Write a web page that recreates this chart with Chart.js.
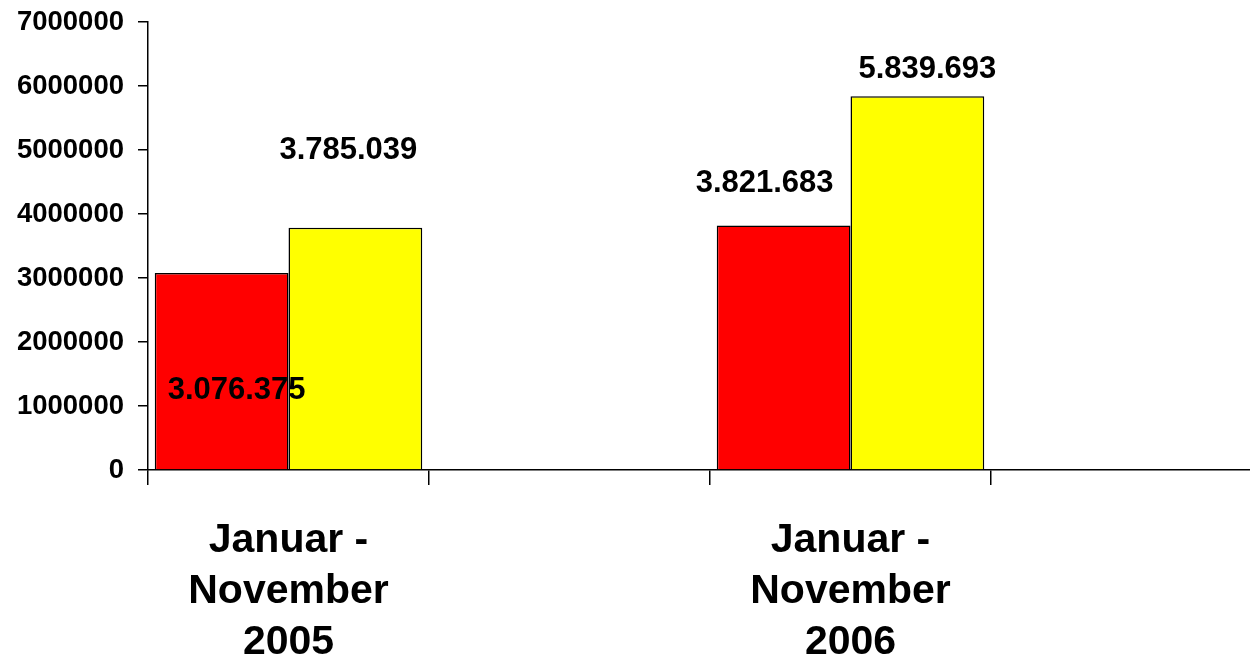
<!DOCTYPE html>
<html>
<head>
<meta charset="utf-8">
<script src="https://cdn.jsdelivr.net/npm/chart.js@4.4.0/dist/chart.umd.min.js"></script>
<style>
  html, body { margin: 0; padding: 0; background: #fff; overflow: hidden; }
  #wrap { width: 1272px; height: 659px; }
</style>
</head>
<body>
<div id="wrap"><canvas id="chart" width="1272" height="659"></canvas></div>
<script>
// chart data
const categories = [["Januar -", "November", "2005"], "", ["Januar -", "November", "2006"], ""];
const redValues = [3076375, null, 3821683, null];
const yellowValues = [3785039, null, 5839693, null];
const yTicks = [0, 1000000, 2000000, 3000000, 4000000, 5000000, 6000000, 7000000];

// where each value label sits relative to its bar top (Excel put them oddly)
const labelNudge = [
  [[15, 117], null, [-19, -42], null],
  [[-7, -77], null, [10, -27], null]
];

function formatLabel(v) {
  return String(v).replace(/\B(?=(\d{3})+(?!\d))/g, ".");
}

const valueLabels = {
  id: "valueLabels",
  afterDatasetsDraw(chart) {
    const ctx = chart.ctx;
    ctx.save();
    ctx.font = "bold 31px 'Liberation Sans', Arial, sans-serif";
    ctx.fillStyle = "#000";
    ctx.textAlign = "center";
    ctx.textBaseline = "middle";
    chart.data.datasets.forEach((ds, di) => {
      const meta = chart.getDatasetMeta(di);
      meta.data.forEach((bar, i) => {
        const v = ds.data[i];
        const nudge = labelNudge[di][i];
        if (v == null || !nudge) return;
        ctx.fillText(formatLabel(v), bar.x + nudge[0], bar.y + nudge[1]);
      });
    });
    ctx.restore();
  }
};

const ctx = document.getElementById("chart").getContext("2d");
new Chart(ctx, {
  type: "bar",
  data: {
    labels: categories,
    datasets: [
      {
        label: "red",
        data: redValues,
        backgroundColor: "#ff0000",
        borderColor: "#000",
        borderWidth: 1.5,
        barPercentage: 1,
        categoryPercentage: 0.952
      },
      {
        label: "yellow",
        data: yellowValues,
        backgroundColor: "#ffff00",
        borderColor: "#000",
        borderWidth: 1.5,
        barPercentage: 1,
        categoryPercentage: 0.952
      }
    ]
  },
  options: {
    responsive: false,
    devicePixelRatio: 1,
    animation: false,
    layout: { padding: { top: 22, right: 0, bottom: 0, left: 0 } },
    plugins: {
      legend: { display: false },
      tooltip: { enabled: false },
      title: { display: false }
    },
    scales: {
      x: {
        offset: true,
        grid: {
          offset: true,
          drawOnChartArea: false,
          drawTicks: true,
          tickLength: 15,
          color: "#000",
          lineWidth: 1.5
        },
        border: { display: true, color: "#000", width: 1.5 },
        ticks: {
          color: "#000",
          autoSkip: false,
          maxRotation: 0,
          padding: 30,
          font: { family: "'Liberation Sans', Arial, sans-serif", size: 41, weight: "bold", lineHeight: 1.25 }
        },
        afterFit: scale => { scale.height = 189; }
      },
      y: {
        min: 0,
        max: 7000000,
        afterBuildTicks: scale => { scale.ticks = yTicks.map(v => ({ value: v })); },
        grid: {
          drawOnChartArea: false,
          drawTicks: true,
          tickLength: 10,
          color: "#000",
          lineWidth: 1.5
        },
        border: { display: true, color: "#000", width: 1.5 },
        ticks: {
          color: "#000",
          padding: 14,
          callback: v => String(v),
          font: { family: "'Liberation Sans', Arial, sans-serif", size: 27.5, weight: "bold" }
        },
        afterFit: scale => {
          scale.width = 148;
          scale.paddingTop = 0;
          scale.paddingBottom = 0;
        }
      }
    }
  },
  plugins: [valueLabels]
});
</script>
</body>
</html>
